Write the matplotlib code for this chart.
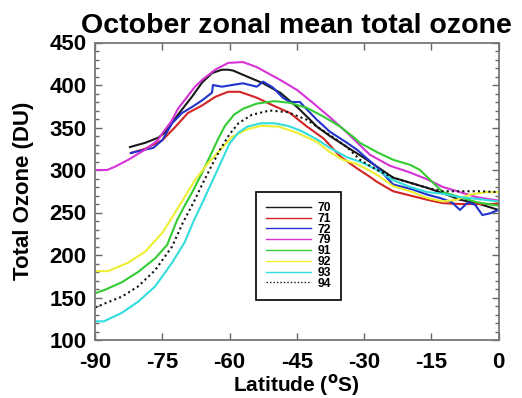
import matplotlib
matplotlib.use("Agg")
import matplotlib.pyplot as plt
from matplotlib.ticker import MultipleLocator

plt.rcParams['font.family'] = ['Liberation Sans', 'DejaVu Sans']
plt.rcParams['font.weight'] = 'bold'
plt.rcParams['axes.unicode_minus'] = False

# ---- data ----
lat_70 = [-82.2, -78.8, -75.9, -74.4, -71.5, -68.4, -66.1, -63.9, -61.7, -60.3, -59.2, -57, -52.5,
          -48.7, -44.9, -42, -40.5, -37.6, -33.8, -30.2, -23.5, -15.9, -11.5, -8.6, -4.8, 0]
oz_70 = [327, 332, 338, 344, 365, 386, 403, 414, 418, 418, 417, 412, 402,
         391, 374, 359, 351, 340, 327, 315, 291, 279, 271, 265, 261, 253]

lat_71 = [-82, -78.8, -75, -72.2, -69.3, -66.1, -63.2, -60.3, -57.7, -53.9, -50.3, -46.5, -42.7,
          -39, -35.3, -31.6, -28.7, -27.1, -23.5, -19.7, -15.9, -12.4, -8.6, -4, -1.2, 0]
oz_71 = [320, 325, 335, 350, 367, 376, 386, 392, 392, 385, 376, 367, 351,
         337, 316, 302, 292, 286, 275, 270, 265, 261, 260, 260, 260, 261]

lat_72 = [-82, -78.8, -77, -75, -74, -72.8, -70.6, -68.4, -66.1, -63.9, -63.7, -61.7, -59.4, -57,
          -53.9, -52.5, -50.3, -48.1, -46.5, -44.3, -42.7, -40.5, -37.6, -33.8, -31.6, -29, -27,
          -23.5, -19.1, -15.9, -13, -10.4, -8.6, -6.8, -5.2, -3.6, -1.9, 0]
oz_72 = [320, 324, 326, 335, 344, 355, 367, 374, 382, 391, 400, 398, 400, 402,
         398, 404, 397, 385, 380, 380, 371, 359, 345, 332, 324, 312, 303,
         283, 277, 271, 267, 262, 253, 262, 259, 247, 249, 253]

lat_79 = [-90, -87.3, -85.5, -82.6, -78.8, -76, -75, -73, -71.5, -67.7, -66.1, -63.2, -60.3, -57,
          -53.9, -48.7, -44.9, -41.4, -37.6, -33.8, -28.7, -24.2, -19.7, -15.9, -12.4, -8.6, -4.8, 0]
oz_79 = [300, 300, 304, 312, 324, 335, 343, 357, 372, 398, 406, 418, 426, 427,
         421, 406, 394, 379, 362, 344, 318, 305, 297, 289, 280, 274, 268, 264]

lat_91 = [-90, -87.8, -84, -80.4, -76.6, -73.9, -71.7, -70, -68, -66, -64, -62.5, -61, -59,
          -57, -54, -50, -46.5, -42.7, -39.1, -35.3, -32.4, -30.9, -27.1, -23.5, -19.7, -17.5,
          -14.6, -12.4, -8.6, -4.8, 0]
oz_91 = [155, 159, 168, 180, 196, 212, 241, 258, 277, 298, 320, 337, 352, 365,
         372, 378, 381, 379, 373, 363, 351, 339, 332, 321, 312, 306, 300,
         285, 274, 268, 262, 258]

lat_92 = [-90, -87.1, -82.6, -78.8, -75, -73.3, -70.6, -67.7, -64.8, -61.7, -59.4, -56, -53,
          -49, -45, -40.5, -37.6, -34.7, -31.6, -29, -27, -23.5, -19.7, -15.9, -12.4, -9.3,
          -6.4, -2.6, 0]
oz_92 = [181, 181, 191, 204, 226, 240, 263, 288, 308, 326, 339, 348, 352,
         351, 344, 333, 321, 312, 307, 300, 294, 281, 275, 267, 263, 265,
         271, 274, 274]

lat_93 = [-90, -88, -84, -80.4, -76.6, -72.8, -70, -68, -66, -64, -62, -60, -58, -56, -53,
          -50, -47, -44, -40.5, -37.6, -33.8, -30.5, -27, -23.5, -19.7, -15.9, -12.4, -8.6,
          -4.8, 0]
oz_93 = [122, 122, 132, 145, 163, 191, 215, 240, 262, 285, 308, 331, 344, 351, 355,
         355, 352, 346, 336, 326, 315, 309, 300, 288, 280, 274, 272, 268,
         266, 263]

lat_94 = [-90, -87.8, -84, -80.4, -76.6, -72.8, -70.4, -68, -66, -64, -62, -60, -58, -55,
          -51, -47, -42.7, -40.5, -37.6, -33.8, -30.9, -27.1, -23.5, -19.7, -15.9, -12.4,
          -8.6, -4, 0]
oz_94 = [138, 143, 151, 163, 182, 210, 238, 262, 284, 305, 325, 342, 355, 365,
         370, 368, 359, 351, 341, 327, 312, 300, 291, 285, 279, 275,
         275, 275, 274]

labels = ['70', '71', '72', '79', '91', '92', '93', '94']
xticks = [-90, -75, -60, -45, -30, -15, 0]
yticks = [100, 150, 200, 250, 300, 350, 400, 450]

series = [(lat_70, oz_70, '#1a1a1a', '-'),
          (lat_71, oz_71, '#d42424', '-'),
          (lat_72, oz_72, '#2233cc', '-'),
          (lat_79, oz_79, '#d633d6', '-'),
          (lat_91, oz_91, '#33cc33', '-'),
          (lat_92, oz_92, '#eeee33', '-'),
          (lat_93, oz_93, '#33dddd', '-'),
          (lat_94, oz_94, '#111111', (0, (1, 1.5)))]

fig = plt.figure(figsize=(5.22, 3.98), dpi=100)
ax = fig.add_axes([95/522, 1-340/398, 403.5/522, 297.5/398])

for (x, y, c, ls), lab in zip(series, labels):
    ax.plot(x, y, color=c, ls=ls, lw=1.5, label=lab)

ax.set_xlim(-90, 0)
ax.set_ylim(100, 450)
ax.set_xticks(xticks)
ax.set_yticks(yticks)
ax.yaxis.set_minor_locator(MultipleLocator(10))
ax.tick_params(axis='both', which='both', direction='in', colors='#666666',
               top=True, right=True, labelcolor='black', labelsize=16)
ax.tick_params(which='major', length=5, width=1)
ax.tick_params(which='minor', length=3, width=1)
ax.tick_params(axis='x', pad=9)
ax.tick_params(axis='y', pad=6)
for s in ax.spines.values():
    s.set_color('#777777')
    s.set_linewidth(1.3)
for t in ax.get_xticklabels() + ax.get_yticklabels():
    t.set_fontweight('bold')

ax.set_title('October zonal mean total ozone', fontsize=20.5, fontweight='bold', pad=7)
ax.set_xlabel('Latitude ($\\mathbf{^{o}}$S)', fontsize=15, fontweight='bold')
ax.xaxis.label.set_va('bottom')
ax.xaxis.set_label_coords(0.5, -58/297.5)
ax.set_ylabel('Total Ozone (DU)', fontsize=16, fontweight='bold', labelpad=11)

leg = ax.legend(loc='upper left', bbox_to_anchor=(0.399, 0.498), fontsize=8.7,
                handlelength=3.7, labelspacing=-0.1, handletextpad=0.55,
                borderpad=0.85, borderaxespad=0.0, fancybox=False,
                edgecolor='black', framealpha=1)
leg.get_frame().set_linewidth(1.2)
for t in leg.get_texts():
    t.set_fontweight('bold')
for l in leg.get_lines():
    l.set_linewidth(1.0)

fig.savefig('out.png', dpi=100)
